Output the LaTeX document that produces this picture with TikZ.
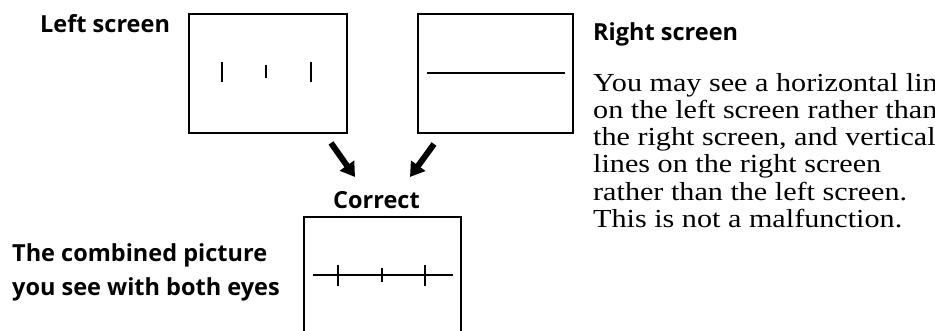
\documentclass[tikz,border=0pt]{standalone}
\usepackage{fontspec}
\setmainfont{Liberation Serif}[FakeStretch=1.16]
\newfontfamily\headfont{Open Sans}
\usetikzlibrary{arrows.meta}
\begin{document}
\begin{tikzpicture}[x=1pt,y=-1pt,
  screenbox/.style={draw, line width=1.5pt, inner sep=0pt, anchor=north west},
  mark line/.style={line width=1.4pt},
  head/.style={font=\headfont\bfseries\fontsize{23.5}{28}\selectfont, anchor=base west, inner sep=0pt},
  body/.style={font=\fontsize{26}{27.3}\selectfont, anchor=base west, inner sep=0pt},
  fatarrow/.style={line width=6pt, -{Triangle[width=17pt,length=14pt]}}]
\useasboundingbox (0,0) rectangle (935,330);
\clip (0,0) rectangle (935,330);

% screens
\node[screenbox, minimum width=158pt, minimum height=119pt] (L) at (188,13) {};
\node[screenbox, minimum width=155pt, minimum height=119pt] (R) at (417,13) {};
\node[screenbox, minimum width=157pt, minimum height=130pt] (C) at (303,216) {};

% left screen: vertical lines
\draw[mark line] (222,62) -- (222,82);
\draw[mark line] (266,65) -- (266,78);
\draw[mark line] (311,62) -- (311,82);

% right screen: horizontal line
\draw[mark line] (427,73) -- (565,73);

% combined picture
\draw[mark line] (313,275) -- (453,275);
\draw[mark line] (338,265) -- (338,286);
\draw[mark line] (382,268) -- (382,282);
\draw[mark line] (425,265) -- (425,286);

% arrows
\coordinate (a1) at (331,143);
\coordinate (a1e) at (355,177);
\coordinate (a2) at (434,144);
\coordinate (a2e) at (410,177);
\draw[fatarrow] (a1) -- (a1e);
\draw[fatarrow] (a2) -- (a2e);

% labels
\node[head] (tl) at (40,32) {Left screen};
\node[head] (tr) at (593,40) {Right screen};
\node[head] (tc) at (333,208) {Correct};
\node[head] (tb1) at (12,261) {The combined picture};
\node[head] (tb2) at (12,295) {you see with both eyes};

% body text
\node[body] (b1) at (593,91) {You may see a horizontal line};
\node[body] (b2) at (593,118.3) {on the left screen rather than};
\node[body] (b3) at (593,145.6) {the right screen, and vertical};
\node[body] (b4) at (593,172.9) {lines on the right screen};
\node[body] (b5) at (593,200.2) {rather than the left screen.};
\node[body] (b6) at (593,227.5) {This is not a malfunction.};
\end{tikzpicture}
\end{document}
